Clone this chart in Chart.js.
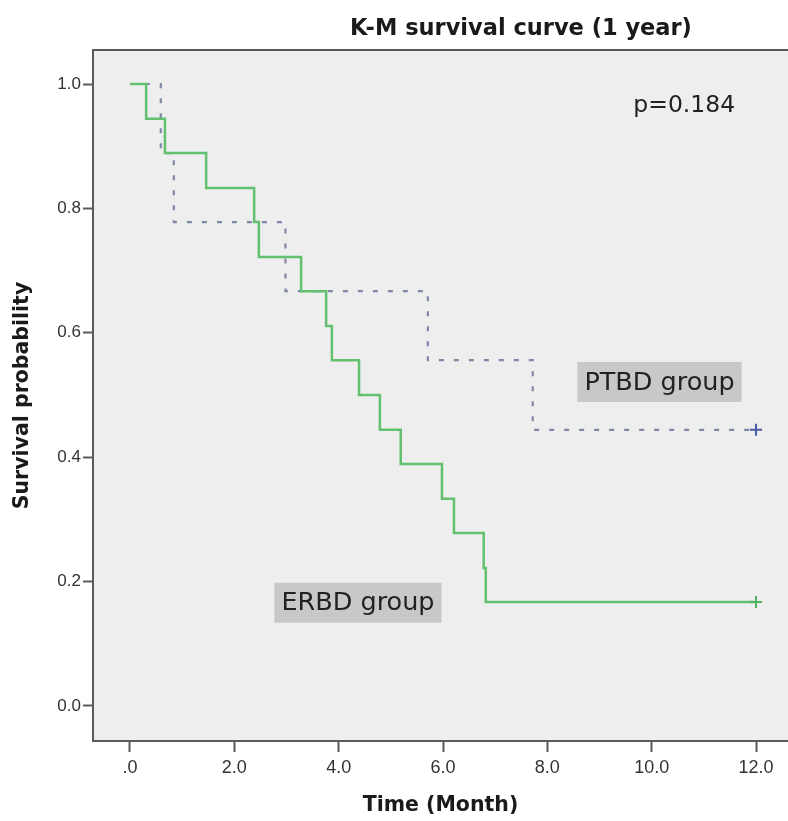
<!DOCTYPE html>
<html>
<head>
<meta charset="utf-8">
<script src="https://cdn.jsdelivr.net/npm/chart.js@4/dist/chart.umd.min.js"></script>
<style>
  html, body { margin: 0; padding: 0; background: #fff; }
  #wrap { position: relative; width: 788px; height: 821px; }
</style>
</head>
<body>
<div id="wrap"><canvas id="km"></canvas></div>
<script>
// K-M curves (time in months, survival probability)
const erbdTimes = [0, 0.31, 0.67, 1.46, 2.38, 2.47, 3.28, 3.76, 3.87, 4.39, 4.79, 5.19, 5.98, 6.21, 6.78, 6.82, 12];
const erbdSurv = [1, 0.944, 0.889, 0.833, 0.778, 0.722, 0.667, 0.611, 0.556, 0.5, 0.444, 0.389, 0.333, 0.278, 0.222, 0.167, 0.167];
const ptbdTimes = [0, 0.59, 0.84, 2.98, 5.71, 7.72, 12];
const ptbdSurv = [1, 0.889, 0.778, 0.667, 0.556, 0.444, 0.444];
const xTicks = [0, 2, 4, 6, 8, 10, 12];
const yTicks = [0, 0.2, 0.4, 0.6, 0.8, 1];

const chartTitle = 'K-M survival curve (1 year)';
const pText = 'p=0.184';

const toPoints = (xs, ys) => xs.map((x, i) => ({ x: x, y: ys[i] }));
const lastOnly = (len, r) => (c) => (c.dataIndex === len - 1 ? r : 0);

const axisColor = '#5a5a5a';

const decorPlugin = {
  id: 'decor',
  beforeDraw(chart) {
    const { ctx, chartArea: a } = chart;
    ctx.save();
    ctx.fillStyle = '#eeeeee';
    ctx.fillRect(a.left, a.top, a.right - a.left, a.bottom - a.top);
    ctx.restore();
  },
  afterDraw(chart) {
    const { ctx, chartArea: a, scales } = chart;
    const xs = scales.x, ys = scales.y;
    ctx.save();
    // top frame line
    ctx.strokeStyle = axisColor;
    ctx.lineWidth = 2;
    ctx.beginPath();
    ctx.moveTo(a.left, a.top);
    ctx.lineTo(a.right, a.top);
    ctx.stroke();

    // title
    ctx.fillStyle = '#1a1a1a';
    ctx.font = 'bold 22.5px "DejaVu Sans"';
    ctx.textAlign = 'center';
    ctx.textBaseline = 'alphabetic';
    ctx.fillText(chartTitle, 521, 35);

    // p value
    ctx.font = '23.5px "DejaVu Sans"';
    ctx.textAlign = 'right';
    ctx.fillStyle = '#222';
    ctx.fillText(pText, xs.getPixelForValue(11.6), ys.getPixelForValue(0.955));

    // group labels
    const boxes = [
      { text: 'PTBD group', x: 10.15, y: 0.521 },
      { text: 'ERBD group', x: 4.37, y: 0.166 }
    ];
    ctx.font = '25.5px "DejaVu Sans"';
    ctx.textAlign = 'center';
    ctx.textBaseline = 'middle';
    boxes.forEach((b) => {
      const cx = xs.getPixelForValue(b.x);
      const cy = ys.getPixelForValue(b.y);
      const w = ctx.measureText(b.text).width + 14;
      const h = 40;
      ctx.fillStyle = '#c8c8c8';
      ctx.fillRect(cx - w / 2, cy - h / 2, w, h);
      ctx.fillStyle = '#222';
      ctx.fillText(b.text, cx, cy + 1);
    });
    ctx.restore();
  }
};

new Chart(document.getElementById('km'), {
  type: 'line',
  data: {
    datasets: [
      {
        label: 'ERBD group',
        data: toPoints(erbdTimes, erbdSurv),
        stepped: 'before',
        borderColor: '#62c06f',
        borderWidth: 2.5,
        pointStyle: 'cross',
        pointRadius: lastOnly(erbdTimes.length, 6),
        pointBorderColor: '#4fb55e',
        pointBorderWidth: 2,
        fill: false
      },
      {
        label: 'PTBD group',
        data: toPoints(ptbdTimes, ptbdSurv),
        stepped: 'before',
        borderColor: '#8088a8',
        borderWidth: 2.2,
        borderDash: [5, 10],
        pointStyle: 'cross',
        pointRadius: lastOnly(ptbdTimes.length, 6),
        pointBorderColor: '#4a5aa6',
        pointBorderWidth: 2,
        fill: false
      }
    ]
  },
  options: {
    responsive: true,
    maintainAspectRatio: false,
    animation: false,
    events: [],
    layout: { autoPadding: false, padding: { top: 50, right: 0, bottom: 0, left: 0 } },
    plugins: {
      legend: { display: false },
      tooltip: { enabled: false },
      title: { display: false }
    },
    scales: {
      x: {
        type: 'linear',
        min: -0.709,
        max: 12.613,
        afterBuildTicks: (s) => { s.ticks = xTicks.map((v) => ({ value: v })); },
        afterFit: (s) => { s.height = 80; s.paddingLeft = 0; s.paddingRight = 0; },
        ticks: {
          autoSkip: false,
          maxRotation: 0,
          padding: 5,
          color: '#333',
          font: { family: '"Liberation Sans"', size: 18 },
          callback: (v) => (v === 0 ? '.0' : Number(v).toFixed(1))
        },
        grid: { drawOnChartArea: false, drawTicks: true, tickLength: 11, tickColor: axisColor, tickWidth: 2 },
        border: { display: true, color: axisColor, width: 2 },
        title: {
          display: true,
          text: 'Time (Month)',
          color: '#1a1a1a',
          font: { family: '"DejaVu Sans"', size: 20.5, weight: 'bold' },
          padding: { top: 0, bottom: 3 }
        }
      },
      y: {
        type: 'linear',
        min: -0.0563,
        max: 1.0547,
        afterBuildTicks: (s) => { s.ticks = yTicks.map((v) => ({ value: v })); },
        afterFit: (s) => { s.width = 93; s.paddingTop = 0; s.paddingBottom = 0; },
        ticks: {
          autoSkip: false,
          padding: 2,
          color: '#333',
          font: { family: '"Liberation Sans"', size: 17 },
          callback: (v) => Number(v).toFixed(1)
        },
        grid: { drawOnChartArea: false, drawTicks: true, tickLength: 10, tickColor: axisColor, tickWidth: 2 },
        border: { display: true, color: axisColor, width: 2 },
        title: {
          display: true,
          text: 'Survival probability',
          color: '#1a1a1a',
          font: { family: '"DejaVu Sans"', size: 20.5, weight: 'bold' },
          padding: { top: 10, bottom: 0 }
        }
      }
    }
  },
  plugins: [decorPlugin]
});
</script>
</body>
</html>
